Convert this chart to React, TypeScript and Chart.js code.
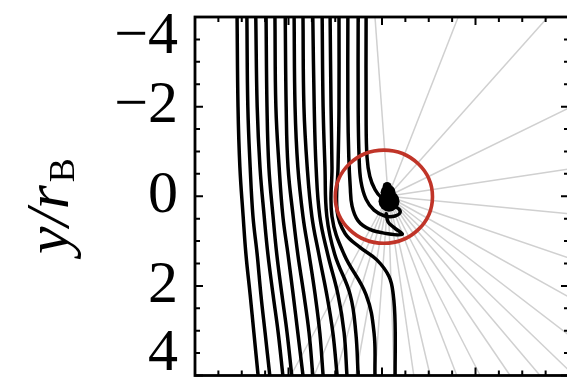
import React, { useEffect, useRef } from "react";
import { Chart, registerables } from "chart.js";
Chart.register(...registerables);

const W = 580;
const H = 386;

// Axis ranges and ticks (units of r_B)
const X_MIN = -4, X_MAX = 4, Y_MIN = -4, Y_MAX = 4;
const majorTicks = [-4, -2, 0, 2, 4];
const minorStep = 0.5;
const yTickLabels = ["\u22124", "\u22122", "0", "2", "4"];

// Streamlines 1-11 share the same sample heights
const sharedY = [-4, -2, -0.65, 0.45, 1.3, 2.2, 3.05, 4];
const line1X = [-3.10, -3.08, -3.04, -2.97, -2.91, -2.82, -2.74, -2.65];
const line2X = [-2.89, -2.87, -2.82, -2.76, -2.67, -2.59, -2.50, -2.40];
const line3X = [-2.70, -2.67, -2.61, -2.52, -2.44, -2.33, -2.22, -2.12];
const line4X = [-2.48, -2.46, -2.42, -2.33, -2.25, -2.14, -2.03, -1.93];
const line5X = [-2.29, -2.27, -2.20, -2.12, -2.01, -1.90, -1.80, -1.69];
const line6X = [-2.07, -2.05, -2.01, -1.90, -1.80, -1.67, -1.56, -1.48];
const line7X = [-1.88, -1.86, -1.80, -1.69, -1.56, -1.43, -1.33, -1.26];
const line8X = [-1.69, -1.67, -1.60, -1.50, -1.35, -1.18, -1.05, -0.96];
const line9X = [-1.48, -1.45, -1.41, -1.33, -1.16, -0.94, -0.81, -0.75];
const line10X = [-1.28, -1.26, -1.22, -1.18, -1.01, -0.68, -0.56, -0.51];
const line11X = [-1.11, -1.09, -1.07, -1.07, -0.81, -0.34, -0.17, -0.15];

// Streamline passing just outside the circle
const line12X = [-0.92, -0.92, -0.94, -0.96, -0.79, -0.47, -0.11, 0.15, 0.24, 0.28, 0.28];
const line12Y = [-4.0, -1.97, -0.66, 0.33, 0.83, 1.14, 1.42, 1.79, 2.19, 2.84, 4.0];

// Streamlines captured by the object
const line13X = [-0.73, -0.73, -0.71, -0.68, -0.64, -0.51, -0.26, 0.09, 0.43, 0.26, 0.13, 0.09];
const line13Y = [-4.0, -1.97, -0.87, -0.22, 0.22, 0.55, 0.74, 0.83, 0.85, 0.70, 0.57, 0.39];
const line14X = [-0.51, -0.51, -0.49, -0.45, -0.34, -0.17, 0.06, 0.28, 0.39, 0.30, 0.15];
const line14Y = [-4.0, -1.97, -0.87, -0.33, 0.07, 0.31, 0.44, 0.44, 0.35, 0.24, 0.22];
const line15X = [-0.34, -0.34, -0.32, -0.26, -0.15, -0.02, 0.13];
const line15Y = [-4.0, -1.75, -0.87, -0.44, -0.15, 0.02, 0.07];

// Central body (teardrop blob)
const dotX = [0.15, 0.13, 0.11];
const dotY = [0.11, -0.09, -0.22];
const dotR = [10.5, 7.5, 4.5];

// Gray rays from the body
const rayOriginX = 0.13;
const rayOriginY = 0.0;
const rayEndX = [-0.15, 1.63, 3.55, 4, 4, 4, 4, 4, 4, 4, 3.38, 2.74, 2.10, 1.60, 1.03, 0.68, 0.26, -0.15, -0.56, -1.0, -1.45, -1.95];
const rayEndY = [-4, -4, -4, -1.97, -0.61, 0.39, 1.38, 2.25, 3.10, 3.89, 4, 4, 4, 4, 4, 4, 4, 4, 4, 4, 4, 4];

// Bondi radius circle
const circleX = 0.04;
const circleY = 0.01;
const circleR = 1.04;

const sharedLines = [line1X, line2X, line3X, line4X, line5X, line6X, line7X, line8X, line9X, line10X, line11X];
const ownLines: [number[], number[]][] = [
  [line12X, line12Y],
  [line13X, line13Y],
  [line14X, line14Y],
  [line15X, line15Y],
];

const decorPlugin = {
  id: "decor",
  afterDatasetsDraw(chart: any) {
    const { ctx, chartArea, scales } = chart;
    const xs = scales.x;
    const ys = scales.y;
    const { left, right, top, bottom } = chartArea;
    ctx.save();

    // red circle
    const cx = xs.getPixelForValue(circleX);
    const cy = ys.getPixelForValue(circleY);
    const rx = Math.abs(xs.getPixelForValue(circleX + circleR) - cx);
    const ry = Math.abs(ys.getPixelForValue(circleY + circleR) - cy);
    ctx.beginPath();
    ctx.ellipse(cx, cy, rx, ry, 0, 0, Math.PI * 2);
    ctx.strokeStyle = "rgb(192,52,40)";
    ctx.lineWidth = 3.6;
    ctx.stroke();

    // frame
    ctx.strokeStyle = "#000";
    ctx.lineWidth = 2.8;
    ctx.strokeRect(left, top, right - left, bottom - top);

    // ticks (inward)
    ctx.lineWidth = 2;
    const isMajor = (v: number) => majorTicks.some((m) => Math.abs(m - v) < 1e-6);
    for (let v = X_MIN; v <= X_MAX + 1e-6; v += minorStep) {
      const len = isMajor(v) ? 8 : 5;
      const px = xs.getPixelForValue(v);
      ctx.beginPath();
      ctx.moveTo(px, top);
      ctx.lineTo(px, top + len);
      ctx.moveTo(px, bottom);
      ctx.lineTo(px, bottom - len);
      ctx.stroke();
    }
    for (let v = Y_MIN; v <= Y_MAX + 1e-6; v += minorStep) {
      const len = isMajor(v) ? 8 : 5;
      const py = ys.getPixelForValue(v);
      ctx.beginPath();
      ctx.moveTo(left, py);
      ctx.lineTo(left + len, py);
      ctx.moveTo(right, py);
      ctx.lineTo(right - len, py);
      ctx.stroke();
    }

    // y tick labels
    ctx.fillStyle = "#000";
    ctx.font = "60px 'Liberation Serif', 'Times New Roman', serif";
    ctx.textAlign = "right";
    ctx.textBaseline = "middle";
    majorTicks.forEach((v, i) => {
      let py = ys.getPixelForValue(v);
      py = Math.max(top + 20, Math.min(bottom - 21, py));
      ctx.fillText(yTickLabels[i], left - 17, py);
    });

    // y axis title: y/r_B (rotated)
    ctx.save();
    ctx.translate(68, 254);
    ctx.rotate(-Math.PI / 2);
    ctx.textAlign = "left";
    ctx.textBaseline = "alphabetic";
    ctx.font = "italic 62px 'Liberation Serif', 'Times New Roman', serif";
    const main = "y/r";
    ctx.fillText(main, 0, 0);
    const w = ctx.measureText(main).width;
    ctx.font = "36px 'Liberation Serif', 'Times New Roman', serif";
    ctx.fillText("B", w + 3, 6);
    ctx.restore();

    ctx.restore();
  },
};

export default function App() {
  const ref = useRef<HTMLCanvasElement | null>(null);

  useEffect(() => {
    document.body.style.margin = "0";
    document.body.style.overflow = "hidden";
    const canvas = ref.current;
    if (!canvas) return;

    const datasets: any[] = [];

    datasets.push({
      label: "body",
      data: dotX.map((x, i) => ({ x, y: dotY[i] })),
      showLine: false,
      pointRadius: (c: any) => dotR[c.dataIndex] ?? 0,
      pointBackgroundColor: "#000",
      pointBorderColor: "#000",
      pointBorderWidth: 0,
      order: 0,
    });

    sharedLines.forEach((xsArr, k) => {
      datasets.push({
        label: "stream" + (k + 1),
        data: xsArr.map((x, i) => ({ x, y: sharedY[i] })),
        showLine: true,
        borderColor: "#000",
        borderWidth: 3.5,
        pointRadius: 0,
        tension: 0.4,
        order: 1,
      });
    });

    ownLines.forEach(([xa, ya], k) => {
      datasets.push({
        label: "streamIn" + (k + 12),
        data: xa.map((x, i) => ({ x, y: ya[i] })),
        showLine: true,
        borderColor: "#000",
        borderWidth: 3.5,
        pointRadius: 0,
        tension: 0.4,
        borderCapStyle: "round",
        order: 1,
      });
    });

    rayEndX.forEach((ex, i) => {
      datasets.push({
        label: "ray" + i,
        data: [
          { x: rayOriginX, y: rayOriginY },
          { x: ex, y: rayEndY[i] },
        ],
        showLine: true,
        borderColor: "#d0d0d0",
        borderWidth: 1.5,
        pointRadius: 0,
        tension: 0,
        order: 2,
      });
    });

    const chart = new Chart(canvas, {
      type: "scatter",
      data: { datasets },
      options: {
        animation: false,
        responsive: false,
        maintainAspectRatio: false,
        events: [],
        layout: { padding: { left: 195, top: 17, right: W - 569, bottom: H - 383 } },
        plugins: { legend: { display: false }, tooltip: { enabled: false } },
        scales: {
          x: { type: "linear", min: X_MIN, max: X_MAX, display: false },
          y: { type: "linear", min: Y_MIN, max: Y_MAX, reverse: true, display: false },
        },
      },
      plugins: [decorPlugin],
    });

    return () => chart.destroy();
  }, []);

  return (
    <div style={{ position: "fixed", left: 0, top: 0, width: W, height: H, background: "#fff" }}>
      <canvas ref={ref} width={W} height={H} style={{ display: "block" }} />
    </div>
  );
}
